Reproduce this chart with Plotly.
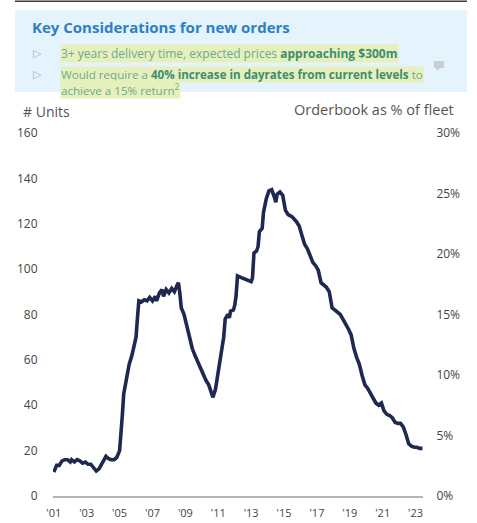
import plotly.graph_objects as go

# Orderbook (number of units), read as (decimal year, units)
years = [
    2001.00, 2001.08, 2001.17, 2001.33, 2001.50, 2001.67, 2001.83, 2002.00, 2002.08, 2002.25,
    2002.42, 2002.58, 2002.75, 2002.92, 2003.08, 2003.25, 2003.42, 2003.58, 2003.75, 2003.92,
    2004.08, 2004.17, 2004.33, 2004.50, 2004.67, 2004.83, 2005.00, 2005.08, 2005.17, 2005.25,
    2005.42, 2005.58, 2005.75, 2005.92, 2006.00, 2006.08, 2006.17, 2006.33, 2006.50, 2006.67,
    2006.83, 2007.00, 2007.17, 2007.25, 2007.42, 2007.58, 2007.67, 2007.83, 2008.00, 2008.17,
    2008.33, 2008.50, 2008.58, 2008.67, 2008.75, 2008.92, 2009.08, 2009.25, 2009.42, 2009.58,
    2009.75, 2009.92, 2010.08, 2010.25, 2010.42, 2010.50, 2010.58, 2010.67, 2010.83, 2011.00,
    2011.17, 2011.33, 2011.42, 2011.58, 2011.67, 2011.75, 2011.92, 2012.00, 2012.08, 2012.17,
    2012.33, 2012.50, 2012.67, 2012.83, 2013.00, 2013.08, 2013.17, 2013.33, 2013.42, 2013.50,
    2013.67, 2013.75, 2013.83, 2013.92, 2014.08, 2014.25, 2014.42, 2014.50, 2014.58, 2014.75,
    2014.92, 2015.08, 2015.25, 2015.50, 2015.75, 2015.92, 2016.08, 2016.25, 2016.42, 2016.58,
    2016.75, 2016.92, 2017.08, 2017.25, 2017.42, 2017.58, 2017.75, 2017.92, 2018.08, 2018.25,
    2018.42, 2018.58, 2018.75, 2018.92, 2019.08, 2019.25, 2019.42, 2019.58, 2019.75, 2019.92,
    2020.08, 2020.25, 2020.42, 2020.58, 2020.75, 2020.92, 2021.08, 2021.25, 2021.42, 2021.58,
    2021.75, 2021.92, 2022.08, 2022.25, 2022.42, 2022.58, 2022.75, 2022.92, 2023.08, 2023.25,
    2023.42,
]
units = [
    10.5, 12.5, 13.5, 13.5, 15.5, 16.0, 16.0, 15.0, 16.0, 15.0,
    16.0, 15.5, 14.5, 15.0, 14.0, 14.0, 12.5, 11.0, 12.0, 14.0,
    16.0, 17.5, 16.5, 16.0, 16.0, 17.0, 20.0, 26.0, 36.0, 45.0,
    52.0, 58.0, 62.0, 68.0, 70.0, 78.0, 86.0, 85.5, 86.5, 86.0,
    87.5, 86.0, 88.0, 86.0, 89.5, 91.0, 88.0, 91.0, 89.5, 91.5,
    90.0, 93.0, 94.0, 89.0, 83.0, 80.0, 75.0, 70.0, 65.0, 62.0,
    59.0, 56.0, 53.0, 51.0, 49.0, 47.5, 45.0, 43.5, 47.0, 55.0,
    63.0, 70.0, 78.0, 80.0, 78.5, 81.5, 82.0, 84.0, 88.0, 97.0,
    96.5, 96.0, 95.5, 95.0, 94.5, 96.0, 107.0, 108.0, 110.0, 116.5,
    118.0, 125.0, 129.0, 131.0, 134.5, 135.0, 131.5, 129.5, 133.0, 134.0,
    132.5, 126.0, 124.0, 123.0, 121.0, 119.0, 115.0, 111.0, 109.0, 106.0,
    103.0, 101.5, 99.5, 94.0, 93.0, 92.0, 90.0, 83.0, 82.0, 81.0,
    80.0, 78.0, 76.0, 73.5, 71.0, 65.0, 61.0, 58.0, 53.0, 49.0,
    47.5, 45.5, 43.0, 41.0, 40.0, 41.0, 37.5, 36.0, 35.5, 34.5,
    32.5, 32.0, 32.0, 30.5, 27.0, 23.0, 22.0, 21.5, 21.5, 21.0,
    21.0,
]

x_ticks = [2001, 2003, 2005, 2007, 2009, 2011, 2013, 2015, 2017, 2019, 2021, 2023]
x_tick_labels = ["'01", "'03", "'05", "'07", "'09", "'11", "'13", "'15", "'17", "'19", "'21", "'23"]
left_ticks = [0, 20, 40, 60, 80, 100, 120, 140, 160]
right_ticks = [0, 5, 10, 15, 20, 25, 30]
right_tick_labels = ["0%", "5%", "10%", "15%", "20%", "25%", "30%"]

FONT = "Open Sans"
W, H = 477, 523
L, R, T, B = 53, 54, 133, 27
PW, PH = W - L - R, H - T - B
CLEAR = "rgba(0,0,0,0)"


def fx(px):
    """Pixel x -> paper x."""
    return (px - L) / PW


def fy(py):
    """Pixel y (from top) -> paper y."""
    return (H - B - py) / PH


fig = go.Figure()
fig.add_trace(go.Scatter(
    x=years, y=units, mode="lines",
    line=dict(color="#1e2850", width=3.6),
    hoverinfo="skip", showlegend=False,
))
# empty trace so the percentage axis on the right is drawn
fig.add_trace(go.Scatter(x=[None], y=[None], yaxis="y2", mode="lines",
                         hoverinfo="skip", showlegend=False))

# header panel, top rule and comment marker
fig.add_shape(type="rect", xref="paper", yref="paper",
              x0=fx(15), x1=fx(467), y0=fy(92), y1=fy(10),
              fillcolor="#e4f3fc", line=dict(width=0), layer="below")
fig.add_shape(type="line", xref="paper", yref="paper",
              x0=fx(15), x1=fx(467), y0=fy(1.2), y1=fy(1.2),
              line=dict(color="#3b3b3b", width=1.5))
fig.add_shape(type="rect", xref="paper", yref="paper",
              x0=fx(434), x1=fx(444), y0=fy(68), y1=fy(61),
              fillcolor="#c9ced4", line=dict(width=0))
fig.add_shape(type="path", xref="paper", yref="paper",
              path=f"M {fx(436)},{fy(68)} L {fx(440)},{fy(68)} L {fx(437)},{fy(71)} Z",
              fillcolor="#c9ced4", line=dict(width=0))

txt = "#6aab8f"
bold = "#3e8d73"
hl = "#e6f0bd"


def strong(s):
    return f"<span style='font-weight:bold;color:{bold}'>{s}</span>"


def note(text, x, y, size, color, family=FONT, anchor="left", **kw):
    fig.add_annotation(text=text, x=x, y=y, xref="paper", yref="paper",
                       xanchor=anchor, yanchor="middle", showarrow=False,
                       font=dict(family=family, size=size, color=color), **kw)


# axis titles
note("# Units", fx(21), fy(112), 14, "#555555")
note("Orderbook as % of fleet", fx(456), fy(110), 14.5, "#555555", anchor="right")

# header text
note("<b>Key Considerations for new orders</b>", fx(30), fy(27), 15, "#2d7fc3")
note("▷", fx(31), fy(54), 11, "#8cb4d6", family="DejaVu Sans")
note("▷", fx(31), fy(74), 11, "#8cb4d6", family="DejaVu Sans")
note("3+ years delivery time, expected prices " + strong("approaching $300m"),
     fx(60), fy(54), 12, txt, bgcolor=hl, borderpad=0)
note("Would require a " + strong("40% increase in dayrates from current levels") + " to",
     fx(60), fy(74), 11.6, txt, bgcolor=hl, borderpad=0)
note("achieve a 15% return<sup>2</sup>", fx(60), fy(89), 11.6, txt, bgcolor=hl, borderpad=0)

fig.update_layout(
    width=W, height=H,
    margin=dict(l=L, r=R, t=T, b=B, autoexpand=False),
    paper_bgcolor="white", plot_bgcolor="white",
    font=dict(family=FONT, size=12, color="#444444"),
    xaxis=dict(
        range=[2000.95, 2023.45], tickmode="array", tickvals=x_ticks, ticktext=x_tick_labels,
        showgrid=False, zeroline=False, showline=True, linecolor="#b5b5b5", linewidth=2,
        ticks="outside", ticklen=6, tickcolor=CLEAR, tickfont=dict(size=11, color="#444444"),
        automargin=False,
    ),
    yaxis=dict(
        range=[0, 160], tickmode="array", tickvals=left_ticks,
        ticktext=[str(v) for v in left_ticks],
        showgrid=False, zeroline=False, showline=False, automargin=False,
        ticks="outside", ticklen=12, tickcolor=CLEAR, tickfont=dict(size=12, color="#444444"),
    ),
    yaxis2=dict(
        range=[0, 30], tickmode="array", tickvals=right_ticks, ticktext=right_tick_labels,
        overlaying="y", side="right", showgrid=False, zeroline=False, showline=False,
        automargin=False,
        ticks="outside", ticklen=10, tickcolor=CLEAR, tickfont=dict(size=12, color="#444444"),
    ),
)

fig.write_html("out.html")
